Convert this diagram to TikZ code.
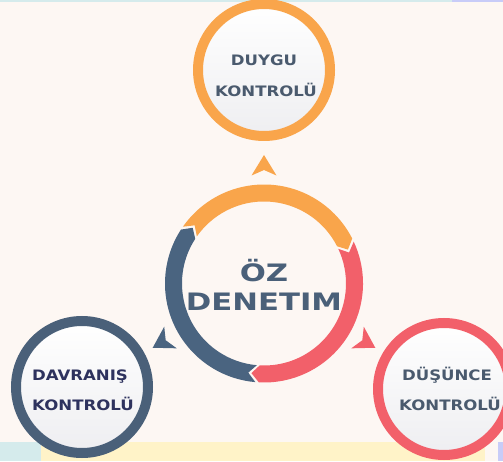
\documentclass[tikz,border=0pt]{standalone}
\usepackage{fontspec}
\newfontfamily\smallfont[FakeStretch=1.15]{DejaVu Sans}
\newfontfamily\bigfont[FakeStretch=1.28]{DejaVu Sans}
\definecolor{bgcream}{HTML}{FDF7F3}
\definecolor{stripcyan}{HTML}{D5EBEC}
\definecolor{striplav}{HTML}{C8CCF8}
\definecolor{stripyel}{HTML}{FFF3C8}
\definecolor{cOrange}{HTML}{F9A54B}
\definecolor{cRed}{HTML}{F2606A}
\definecolor{cBlue}{HTML}{4A6480}
\definecolor{cBlueL}{HTML}{4A6079}
\definecolor{cInner}{HTML}{EEEEF1}
\definecolor{tSlate}{HTML}{4A5A6E}
\definecolor{tNavy}{HTML}{2E325E}
\definecolor{tCenter}{HTML}{4A6079}
\tikzset{
  ringnode/.style={circle, line width=10pt, minimum size=132pt, inner sep=0pt,
    top color=white, bottom color=cInner},
  smalltxt/.style={font=\smallfont\bfseries\fontsize{14.4}{16}\selectfont, anchor=base, inner sep=0pt},
  bigtxt/.style={font=\bigfont\bfseries\fontsize{24}{28}\selectfont, anchor=base, inner sep=0pt, text=tCenter},
  headshape/.style={line width=0pt}
}
\begin{document}
\begin{tikzpicture}[x=1pt,y=1pt]
\useasboundingbox (0,0) rectangle (503,461);
\fill[bgcream] (0,0) rectangle (503,461);
\fill[stripcyan] (0,459) rectangle (452,461);
\fill[striplav] (452,459) rectangle (503,461);
\fill[stripcyan] (0,0) rectangle (41,19);
\fill[stripyel] (41,0) rectangle (485,19);
\fill[striplav] (498,0) rectangle (503,19);

% central cycle
\begin{scope}[shift={(264,177.5)}]
  \fill[cOrange] (145:99) arc[start angle=145, end angle=27, radius=99]
     -- (22:90.5) -- (27:82) arc[start angle=27, end angle=145, radius=82]
     -- (140:90.5) -- cycle;
  \fill[cRed] (25:99) arc[start angle=25, end angle=-93, radius=99]
     -- (-98:90.5) -- (-93:82) arc[start angle=-93, end angle=25, radius=82]
     -- (20:90.5) -- cycle;
  \fill[cBlue] (-95:99) arc[start angle=-95, end angle=-213, radius=99]
     -- (-218:90.5) -- (-213:82) arc[start angle=-213, end angle=-95, radius=82]
     -- (-100:90.5) -- cycle;
  % outward arrowheads
  \fill[cOrange] (0,128.5) -- (-12.5,108) -- (0,113.5) -- (12.5,108) -- cycle;
  \fill[cBlue, rotate=120] (0,128.5) -- (-12.5,108) -- (0,113.5) -- (12.5,108) -- cycle;
  \fill[cRed, rotate=240] (0,128.5) -- (-12.5,108) -- (0,113.5) -- (12.5,108) -- cycle;
\end{scope}

\node[bigtxt] (oz) at (264,180) {ÖZ};
\node[bigtxt] (denetim) at (264,151) {DENETIM};

% outer circles
\node[ringnode, draw=cOrange] (duygu) at (264,391) {};
\node[ringnode, draw=cBlueL] (davranis) at (82,74) {};
\node[ringnode, draw=cRed] (dusunce) at (444,72) {};

\node[smalltxt, text=tSlate] (duyguA) at (264,395) {DUYGU};
\node[smalltxt, text=tSlate] (duyguB) at (266,364) {KONTROLÜ};
\node[smalltxt, text=tNavy] (davA) at (80,81) {DAVRANIŞ};
\node[smalltxt, text=tNavy] (davB) at (83,51) {KONTROLÜ};
\node[smalltxt, text=tSlate] (dusA) at (447,81) {DÜŞÜNCE};
\node[smalltxt, text=tSlate] (dusB) at (450,51) {KONTROLÜ};
\end{tikzpicture}
\end{document}
